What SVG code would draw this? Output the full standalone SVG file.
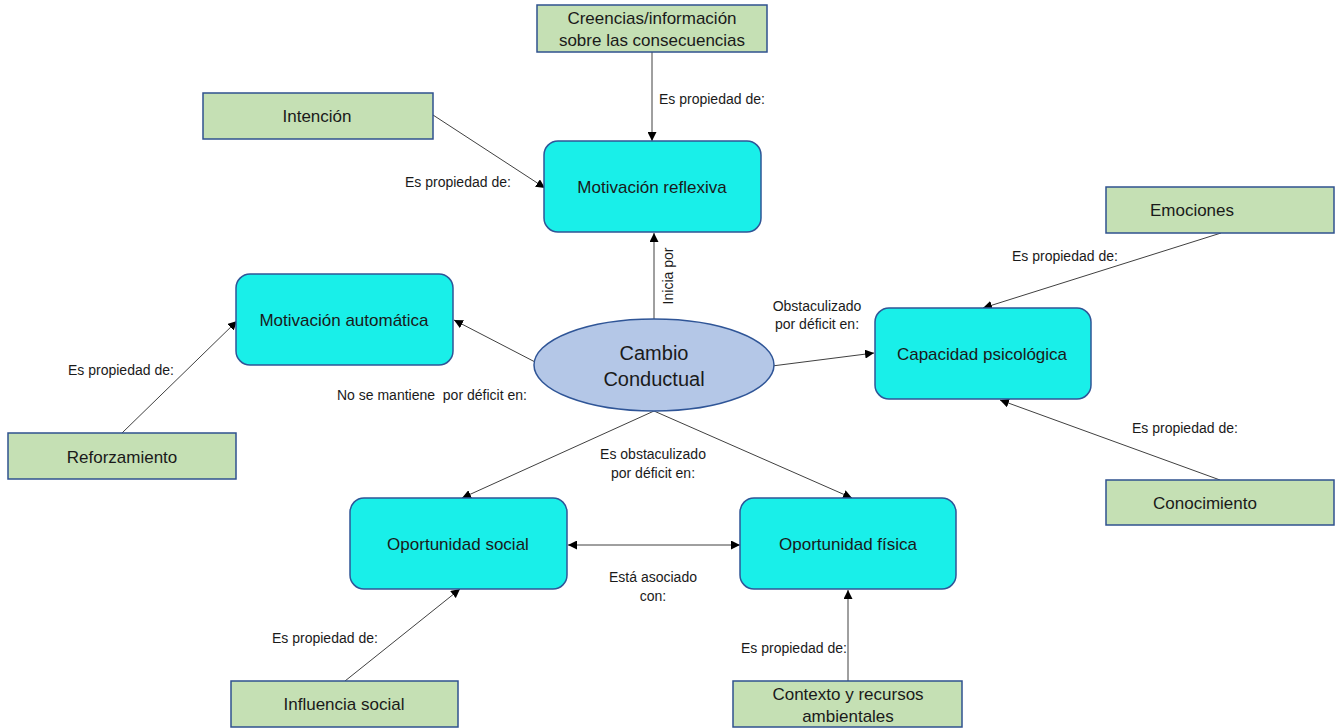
<svg xmlns="http://www.w3.org/2000/svg" width="1338" height="728" viewBox="0 0 1338 728">
<defs>
<marker id="arr" viewBox="0 0 10 10" refX="10" refY="5" markerWidth="9" markerHeight="9" markerUnits="userSpaceOnUse" orient="auto-start-reverse">
<path d="M0,0 L10,5 L0,10 z" fill="#000"/>
</marker>
<style>
.g{fill:#C5E0B4;stroke:#2F528F;stroke-width:1.5}
.c{fill:#19EFE9;stroke:#2F5597;stroke-width:1.5}
.e{fill:#B4C7E7;stroke:#2F5597;stroke-width:1.5}
.t{font-family:"Liberation Sans",Arial,sans-serif;fill:#1a1a1a;text-anchor:middle}
.gt{font-size:17px}
.ct{font-size:17px}
.lb{font-family:"Liberation Sans",Arial,sans-serif;fill:#1a1a1a;font-size:14px}
.ln{stroke:#404040;stroke-width:1;fill:none;marker-end:url(#arr)}
</style>
</defs>
<rect width="1338" height="728" fill="#fff"/>

<g id="connectors">
<line class="ln" x1="652" y1="52" x2="652" y2="141"/>
<line class="ln" x1="433" y1="115" x2="545" y2="188"/>
<line class="ln" x1="654" y1="319" x2="654" y2="233"/>
<line class="ln" x1="537" y1="363" x2="454" y2="320"/>
<line class="ln" x1="772" y1="366" x2="874" y2="353"/>
<line class="ln" x1="1221" y1="233" x2="983" y2="308"/>
<line class="ln" x1="1220" y1="480" x2="1000" y2="400"/>
<line class="ln" x1="122" y1="433" x2="237" y2="321"/>
<line class="ln" x1="654" y1="411" x2="462" y2="498"/>
<line class="ln" x1="654" y1="411" x2="852" y2="498"/>
<line class="ln" x1="568" y1="545" x2="740" y2="545" marker-start="url(#arr)"/>
<line class="ln" x1="345" y1="681" x2="460" y2="589"/>
<line class="ln" x1="848" y1="681" x2="848" y2="590"/>
</g>

<g id="labels">
<text class="lb" x="659" y="104">Es propiedad de:</text>
<text class="lb" x="405" y="187">Es propiedad de:</text>
<text class="lb" transform="translate(673,276) rotate(-90)" text-anchor="middle">Inicia por</text>
<text class="lb" x="817" y="311" text-anchor="middle">Obstaculizado</text>
<text class="lb" x="817" y="329" text-anchor="middle">por déficit en:</text>
<text class="lb" x="1012" y="261">Es propiedad de:</text>
<text class="lb" x="68" y="375">Es propiedad de:</text>
<text class="lb" x="337" y="400" xml:space="preserve" style="white-space:pre">No se mantiene  por déficit en:</text>
<text class="lb" x="653" y="459" text-anchor="middle">Es obstaculizado</text>
<text class="lb" x="653" y="478" text-anchor="middle">por déficit en:</text>
<text class="lb" x="653" y="582" text-anchor="middle">Está asociado</text>
<text class="lb" x="653" y="601" text-anchor="middle">con:</text>
<text class="lb" x="1132" y="433">Es propiedad de:</text>
<text class="lb" x="272" y="643">Es propiedad de:</text>
<text class="lb" x="741" y="653">Es propiedad de:</text>
</g>

<g id="creencias">
<rect class="g" x="537" y="5" width="230" height="47"/>
<text class="t gt" x="652" y="24">Creencias/información</text>
<text class="t gt" x="652" y="46">sobre las consecuencias</text>
</g>
<g id="intencion">
<rect class="g" x="203" y="93" width="230" height="46"/>
<text class="t gt" x="317" y="122">Intención</text>
</g>
<g id="emociones">
<rect class="g" x="1106" y="187" width="228" height="46"/>
<text class="t gt" x="1192" y="216">Emociones</text>
</g>
<g id="conocimiento">
<rect class="g" x="1106" y="480" width="228" height="45"/>
<text class="t gt" x="1205" y="509">Conocimiento</text>
</g>
<g id="reforzamiento">
<rect class="g" x="8" y="433" width="228" height="46"/>
<text class="t gt" x="122" y="463">Reforzamiento</text>
</g>
<g id="influencia">
<rect class="g" x="231" y="681" width="227" height="46"/>
<text class="t gt" x="344" y="710">Influencia social</text>
</g>
<g id="contexto">
<rect class="g" x="733" y="681" width="229" height="46"/>
<text class="t gt" x="848" y="700">Contexto y recursos</text>
<text class="t gt" x="848" y="722">ambientales</text>
</g>

<g id="motivacion-reflexiva">
<rect class="c" x="544" y="141" width="217" height="91" rx="14"/>
<text class="t ct" x="652" y="193">Motivación reflexiva</text>
</g>
<g id="motivacion-automatica">
<rect class="c" x="236" y="274" width="217" height="91" rx="14"/>
<text class="t ct" x="344" y="326">Motivación automática</text>
</g>
<g id="capacidad">
<rect class="c" x="875" y="308" width="216" height="91" rx="14"/>
<text class="t ct" x="982" y="360">Capacidad psicológica</text>
</g>
<g id="oportunidad-social">
<rect class="c" x="350" y="498" width="217" height="91" rx="14"/>
<text class="t ct" x="458" y="550">Oportunidad social</text>
</g>
<g id="oportunidad-fisica">
<rect class="c" x="740" y="498" width="216" height="91" rx="14"/>
<text class="t ct" x="848" y="550">Oportunidad física</text>
</g>

<g id="cambio">
<ellipse class="e" cx="654" cy="365" rx="120" ry="46"/>
<text class="t" x="654" y="360" font-size="20">Cambio</text>
<text class="t" x="654" y="386" font-size="20">Conductual</text>
</g>
</svg>
